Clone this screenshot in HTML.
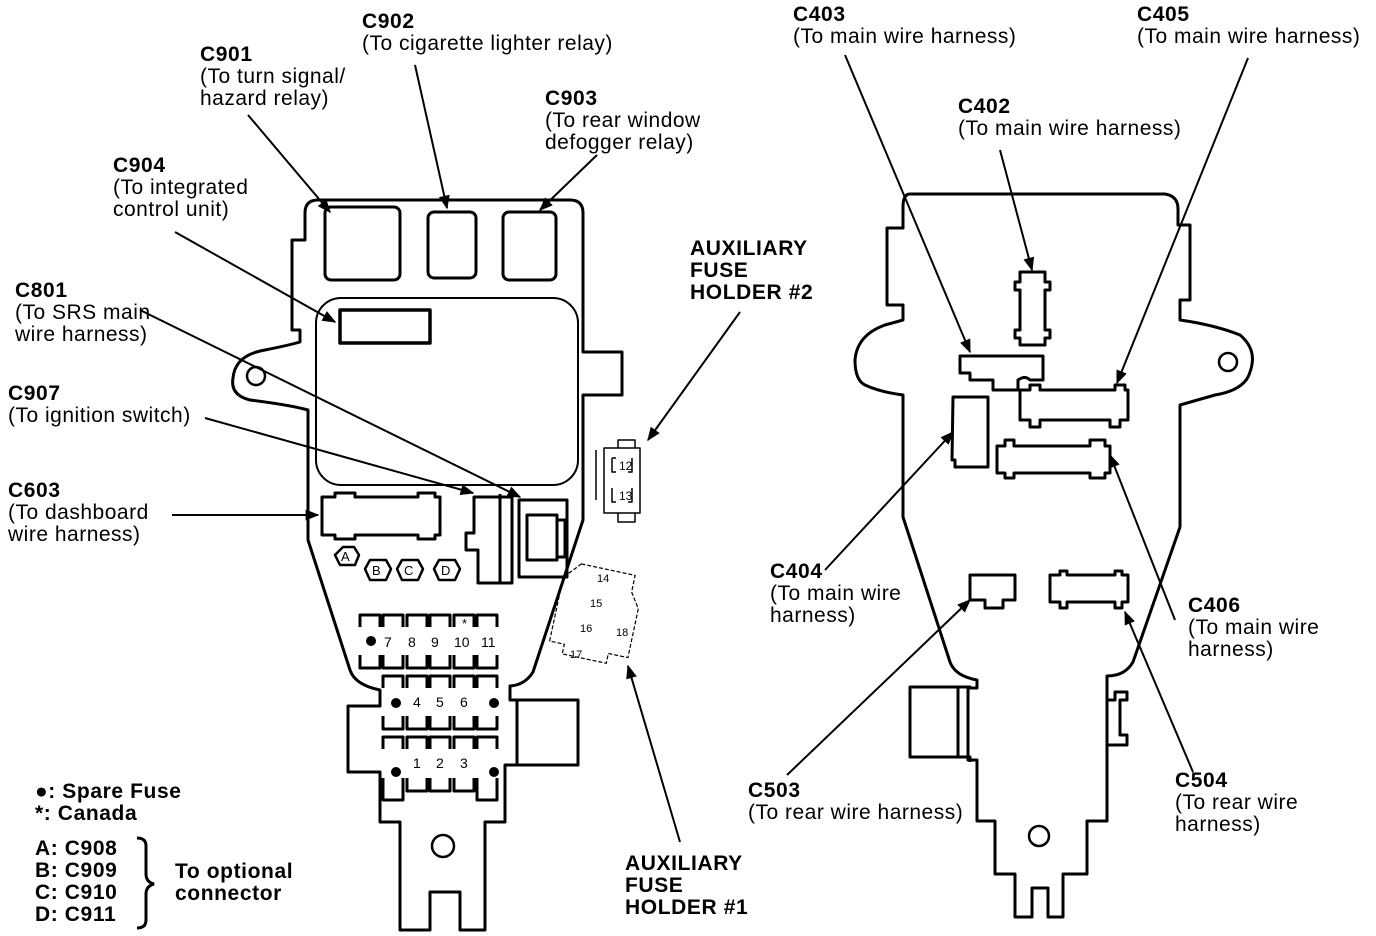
<!DOCTYPE html>
<html><head><meta charset="utf-8"><style>
body{margin:0;background:#fff}
svg{display:block}
text{font-family:"Liberation Sans",Arial,sans-serif;font-size:21px;letter-spacing:0.5px;fill:#000}
.b{font-weight:bold;letter-spacing:0.6px}
</style></head><body>
<svg width="1376" height="936" viewBox="0 0 1376 936" xmlns="http://www.w3.org/2000/svg">
<defs>
<marker id="b" viewBox="0 0 10 8" markerWidth="14" markerHeight="11" refX="9" refY="4" orient="auto" markerUnits="userSpaceOnUse"><path d="M0,0 L10,4 L0,8 z" fill="#000"/></marker></defs>
<g fill="none" stroke="#000" stroke-width="3" stroke-linejoin="round">
<path d="M318,200 H570 Q583,200 583,213 V352 H622 V395 H583 V520 L533,672 Q525,685 510,686 V700 H517 V765 H505 V822 H485 V930 H460 V892 H430 V930 H400 V822 H380 V772 H348 V706 H380 V690 Q355,685 350,670 L308,540 V410 Q290,405 250,400 Q230,395 233,378 Q235,355 265,350 Q290,345 300,342 V330 H292 V240 H305 V213 Q305,200 318,200 Z"/>
<circle cx="256" cy="376" r="9" stroke-width="2.5"/>
<circle cx="443" cy="846" r="11" stroke-width="2.5"/>
<rect x="325" y="207" width="75" height="73" rx="6"/>
<rect x="428" y="212" width="48" height="66" rx="6"/>
<rect x="503" y="212" width="53" height="68" rx="6"/>
<rect x="316" y="298" width="262" height="187" rx="25" stroke-width="2"/>
<rect x="340" y="310" width="90" height="33" stroke-width="3.5"/>
<path d="M328,497 H335 V493 H355 V497 H418 V493 H435 V497 H440 V535 H435 V539 H418 V535 H355 V539 H335 V535 H322 V497 Z"/>
<path d="M474,497 H512 V583 H478 V550 H466 V533 H474 Z"/>
<rect x="519" y="500" width="48" height="77"/>
<rect x="527" y="515" width="30" height="45"/>
<path d="M557,520 H565 V557 H557"/>
<line x1="500" y1="494" x2="500" y2="583"/>
<path d="M343,547 H354 L359,555 L355,565 H340 L335,555 Z" stroke-width="2.5"/>
<path d="M370,560 H386 L391,569 L386,580 H370 L365,569 Z" stroke-width="2.5"/>
<path d="M402,560 H418 L423,569 L418,580 H402 L397,569 Z" stroke-width="2.5"/>
<path d="M439,560 H455 L460,569 L455,580 H439 L434,569 Z" stroke-width="2.5"/>
<g stroke-width="3">
<path d="M360,627V615H380V627 M383,627V615H403V627 M407,627V615H427V627 M430,627V615H450V627 M454,627V615H474V627 M477,627V615H497V627"/>
<path d="M360,655V668H380V655 M383,655V668H403V655 M407,655V668H427V655 M430,655V668H450V655 M454,655V668H474V655 M477,655V668H497V655"/>
<path d="M383,688V676H403V688 M407,688V676H427V688 M430,688V676H450V688 M454,688V676H474V688 M477,688V676H497V688"/>
<path d="M383,716V729H403V716 M407,716V729H427V716 M430,716V729H450V716 M454,716V729H474V716 M477,716V729H497V716"/>
<path d="M383,749V737H403V749 M407,749V737H427V749 M430,749V737H450V749 M454,749V737H474V749 M477,749V737H497V749"/>
<path d="M383,778V800H403V778 M407,778V791H427V778 M430,778V791H450V778 M454,778V791H474V778 M477,778V800H497V778"/>
</g>
<path d="M517,700 H578 V765 H517" />
<g stroke-width="1.5">
<path d="M596,450 V500 M604,448 H640 V513 H604 Z M618,448 V440 H635 V448 M618,513 V522 H635 V513"/>
<path d="M612,458 H616 M612,458 V472 H616 M632,458 V472 H628 M612,488 V502 H616 M632,488 V502 H628"/>
</g>
<g stroke-width="1.2" stroke-dasharray="4,2" transform="rotate(12 595 620)">
<path d="M570,568 H625 V585 L635,600 V650 H615 V660 H570 V650 H555 V585 Z"/>
</g>
<path d="M910,194 H1165 Q1178,196 1178,209 V225 H1190 V300 H1180 V320 Q1215,325 1240,335 Q1258,350 1250,372 Q1245,390 1215,395 L1180,405 V527 L1133,662 Q1125,676 1107,676 V821 H1087 V874 H1063 V917 H1048 V888 H1032 V917 H1015 V874 H995 V821 H977 V760 H968 V688 H977 L977,680 Q955,676 950,662 L903,517 V395 Q880,392 865,385 Q855,380 855,360 Q857,335 885,325 L903,320 V305 H887 V228 H903 V207 Q903,194 910,194 Z"/>
<circle cx="1228" cy="362" r="9" stroke-width="2.5"/>
<circle cx="1039" cy="836" r="10" stroke-width="2.5"/>
<path d="M1020,272 H1045 V282 H1050 V290 H1045 V330 H1050 V338 H1045 V345 H1020 V338 H1015 V330 H1020 V290 H1015 V282 H1020 Z"/>
<path d="M960,356 H1043 V380 H1030 Q1025,375 1018,380 V390 H993 V380 H970 V373 H960 Z"/>
<path d="M1020,390 H1030 V385 H1040 V390 H1115 V385 H1125 V390 H1128 V420 H1120 V427 H1110 V420 H1040 V427 H1030 V420 H1020 Z"/>
<path d="M953,397 H988 V467 H955 V460 H952 Z"/>
<path d="M997,446 H1005 V440 H1014 V446 H1090 V440 H1105 V446 H1110 V473 H1105 V478 H1090 V473 H1014 V478 H1005 V473 H997 Z"/>
<path d="M970,575 H1015 V600 H1003 V608 H985 V600 H970 Z"/>
<path d="M1050,575 H1060 V571 H1067 V575 H1115 V571 H1122 V575 H1128 V602 H1122 V608 H1115 V602 H1067 V608 H1060 V602 H1050 Z"/>
<path d="M970,688 V687 H910 V757 H970 V762 M958,687 V757"/>
<path d="M1107,700 H1115 V692 H1127 V700 H1120 V735 H1127 V745 H1107"/>
</g>
<g>
<text x="384" y="647" style="font-size:14px;letter-spacing:0">7</text><text x="408" y="647" style="font-size:14px;letter-spacing:0">8</text><text x="431" y="647" style="font-size:14px;letter-spacing:0">9</text><text x="454" y="647" style="font-size:14px;letter-spacing:0">10</text><text x="481" y="647" style="font-size:14px;letter-spacing:0">11</text>
<text x="413" y="707" style="font-size:14px;letter-spacing:0">4</text><text x="436" y="707" style="font-size:14px;letter-spacing:0">5</text><text x="460" y="707" style="font-size:14px;letter-spacing:0">6</text>
<text x="413" y="768" style="font-size:14px;letter-spacing:0">1</text><text x="436" y="768" style="font-size:14px;letter-spacing:0">2</text><text x="460" y="768" style="font-size:14px;letter-spacing:0">3</text>
<text x="462" y="628" style="font-size:13px;letter-spacing:0">*</text>
<text x="341" y="561" style="font-size:13px;letter-spacing:0">A</text><text x="372" y="575" style="font-size:13px;letter-spacing:0">B</text><text x="404" y="575" style="font-size:13px;letter-spacing:0">C</text><text x="441" y="575" style="font-size:13px;letter-spacing:0">D</text>
<text x="619" y="470" style="font-size:12px;letter-spacing:0">12</text><text x="619" y="500" style="font-size:12px;letter-spacing:0">13</text>
<text x="597" y="582" style="font-size:11px;letter-spacing:0">14</text><text x="590" y="607" style="font-size:11px;letter-spacing:0">15</text><text x="580" y="632" style="font-size:11px;letter-spacing:0">16</text><text x="616" y="636" style="font-size:11px;letter-spacing:0">18</text><text x="570" y="658" style="font-size:11px;letter-spacing:0">17</text>
</g>
<g fill="#000"><circle cx="371" cy="641" r="5"/><circle cx="396" cy="703" r="5"/><circle cx="494" cy="703" r="5"/><circle cx="396" cy="772" r="5"/><circle cx="494" cy="772" r="5"/></g>
<g stroke="#000" stroke-width="2" fill="none" marker-end="url(#b)">
<line x1="248" y1="115" x2="330" y2="212"/>
<line x1="415" y1="65" x2="447" y2="208"/>
<line x1="597" y1="155" x2="540" y2="210"/>
<line x1="175" y1="232" x2="335" y2="322"/>
<line x1="140" y1="310" x2="520" y2="497"/>
<line x1="205" y1="418" x2="473" y2="493"/>
<line x1="172" y1="515" x2="318" y2="515"/>
<line x1="740" y1="312" x2="648" y2="440"/>
<line x1="680" y1="842" x2="628" y2="666"/>
<line x1="845" y1="55" x2="970" y2="352"/>
<line x1="1248" y1="58" x2="1117" y2="383"/>
<line x1="1000" y1="150" x2="1032" y2="270"/>
<line x1="825" y1="570" x2="953" y2="432"/>
<line x1="1175" y1="620" x2="1110" y2="455"/>
<line x1="787" y1="775" x2="970" y2="600"/>
<line x1="1193" y1="772" x2="1125" y2="612"/>
</g>
<text class="b" x="200" y="61">C901</text><text x="200" y="83">(To turn signal/</text><text x="200" y="105">hazard relay)</text>
<text class="b" x="362" y="28">C902</text><text x="362" y="50">(To cigarette lighter relay)</text>
<text class="b" x="545" y="105">C903</text><text x="545" y="127">(To rear window</text><text x="545" y="149">defogger relay)</text>
<text class="b" x="113" y="172">C904</text><text x="113" y="194">(To integrated</text><text x="113" y="216">control unit)</text>
<text class="b" x="15" y="297">C801</text><text x="15" y="319">(To SRS main</text><text x="15" y="341">wire harness)</text>
<text class="b" x="8" y="400">C907</text><text x="8" y="422">(To ignition switch)</text>
<text class="b" x="8" y="497">C603</text><text x="8" y="519">(To dashboard</text><text x="8" y="541">wire harness)</text>
<text class="b" x="690" y="255">AUXILIARY</text><text class="b" x="690" y="277">FUSE</text><text class="b" x="690" y="299">HOLDER #2</text>
<text class="b" x="625" y="870">AUXILIARY</text><text class="b" x="625" y="892">FUSE</text><text class="b" x="625" y="914">HOLDER #1</text>
<text class="b" x="35" y="798">●: Spare Fuse</text><text class="b" x="35" y="820">*: Canada</text>
<text class="b" x="35" y="855">A: C908</text><text class="b" x="35" y="877">B: C909</text><text class="b" x="35" y="899">C: C910</text><text class="b" x="35" y="921">D: C911</text>
<text class="b" x="175" y="878">To optional</text><text class="b" x="175" y="900">connector</text>
<path d="M137,838 Q146,838 146,846 V874 Q146,882 154,884 Q146,886 146,894 V920 Q146,928 137,928" fill="none" stroke="#000" stroke-width="3"/>
<text class="b" x="793" y="21">C403</text><text x="793" y="43">(To main wire harness)</text>
<text class="b" x="1137" y="21">C405</text><text x="1137" y="43">(To main wire harness)</text>
<text class="b" x="958" y="113">C402</text><text x="958" y="135">(To main wire harness)</text>
<text class="b" x="770" y="578">C404</text><text x="770" y="600">(To main wire</text><text x="770" y="622">harness)</text>
<text class="b" x="1188" y="612">C406</text><text x="1188" y="634">(To main wire</text><text x="1188" y="656">harness)</text>
<text class="b" x="748" y="797">C503</text><text x="748" y="819">(To rear wire harness)</text>
<text class="b" x="1175" y="787">C504</text><text x="1175" y="809">(To rear wire</text><text x="1175" y="831">harness)</text>
</svg>
</body></html>
